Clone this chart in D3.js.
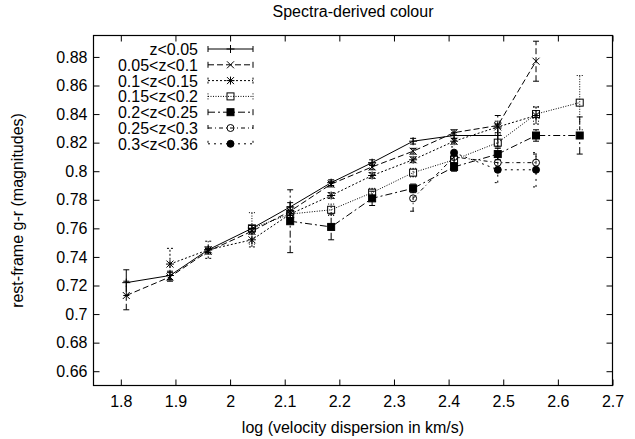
<!DOCTYPE html>
<html><head><meta charset="utf-8">
<script src="https://cdn.jsdelivr.net/npm/d3@7"></script>
<style>
body{margin:0;background:#fff;}
text{font-family:"Liberation Sans",Arial,sans-serif;font-size:16px;fill:#000;}
</style></head><body>
<svg id="c" width="635" height="439"></svg>
<script>
// ---- data ----
const seriesNames = ["z<0.05","0.05<z<0.1","0.1<z<0.15","0.15<z<0.2","0.2<z<0.25","0.25<z<0.3","0.3<z<0.36"];
const x1 = [1.81,1.89,1.96,2.04,2.11,2.185,2.26,2.335,2.41,2.49];
const y1 = [0.722,0.727,0.745,0.760,0.775,0.792,0.806,0.821,0.825,0.825];
const e1 = [0.009,0.003,0.002,0.002,0.003,0.002,0.002,0.002,0.002,0.008];
const x2 = [1.81,1.89,1.96,2.04,2.11,2.185,2.26,2.335,2.41,2.49,2.56];
const y2 = [0.713,0.726,0.744,0.758,0.772,0.791,0.803,0.814,0.827,0.832,0.877];
const e2 = [0.010,0.003,0.002,0.002,0.003,0.002,0.002,0.002,0.002,0.007,0.014];
const x3 = [1.89,1.96,2.04,2.11,2.185,2.26,2.335,2.41,2.49,2.56];
const y3 = [0.735,0.745,0.752,0.770,0.783,0.797,0.808,0.821,0.831,0.839];
const e3 = [0.011,0.006,0.005,0.003,0.002,0.002,0.002,0.002,0.004,0.006];
const x4 = [2.04,2.11,2.185,2.26,2.335,2.41,2.49,2.56,2.64];
const y4 = [0.760,0.770,0.773,0.785,0.799,0.808,0.820,0.840,0.848];
const e4 = [0.011,0.005,0.004,0.003,0.003,0.003,0.006,0.005,0.019];
const x5 = [2.11,2.185,2.26,2.335,2.41,2.49,2.56,2.64];
const y5 = [0.765,0.761,0.781,0.788,0.803,0.812,0.825,0.825];
const e5 = [0.022,0.009,0.005,0.003,0.003,0.004,0.004,0.013];
const x6 = [2.335,2.41,2.49,2.56];
const y6 = [0.781,0.810,0.806,0.806];
const e6 = [0.009,0.004,0.005,0.006];
const x7 = [2.41,2.49,2.56];
const y7 = [0.813,0.801,0.801];
const e7 = [0.004,0.009,0.012];
const xTicks = [1.8,1.9,2.0,2.1,2.2,2.3,2.4,2.5,2.6,2.7];
const yTicks = [0.66,0.68,0.70,0.72,0.74,0.76,0.78,0.80,0.82,0.84,0.86,0.88];
const titleText = "Spectra-derived colour";
const xLabel = "log (velocity dispersion in km/s)";
const yLabel = "rest-frame g-r (magnitudes)";

const allX = [x1,x2,x3,x4,x5,x6,x7], allY=[y1,y2,y3,y4,y5,y6,y7], allE=[e1,e2,e3,e4,e5,e6,e7];
const dashes = [null,"6,3","2,2","1,1.5","7,3,2,3","4,3,1,3","2,4"];
const markers = ["plus","cross","star","sq","fsq","circ","fcirc"];

// ---- layout ----
const L=93.5,R=612.5,T=35.5,B=385.5;
const svg=d3.select("#c");
const x=d3.scaleLinear().domain([1.75,2.7]).range([L,R]);
const y=d3.scaleLinear().domain([0.65,0.895]).range([B,T]);

// axes
const fmt=d=>String(+d.toFixed(2));
svg.append("g").attr("transform",`translate(${L},0)`)
  .call(d3.axisLeft(y).tickValues(yTicks).tickSize(-6).tickPadding(6).tickFormat(fmt))
  .call(g=>{g.select(".domain").remove();g.selectAll("text").style("font-size","16px").style("font-family","Liberation Sans, Arial");});
svg.append("g").attr("transform",`translate(${R},0)`)
  .call(d3.axisRight(y).tickValues(yTicks).tickSize(-6).tickFormat(""))
  .call(g=>g.select(".domain").remove());
svg.append("g").attr("transform",`translate(0,${B})`)
  .call(d3.axisBottom(x).tickValues(xTicks).tickSize(-6).tickPadding(10).tickFormat(fmt))
  .call(g=>{g.select(".domain").remove();g.selectAll("text").style("font-size","16px").style("font-family","Liberation Sans, Arial");});
svg.append("g").attr("transform",`translate(0,${T})`)
  .call(d3.axisTop(x).tickValues(xTicks).tickSize(-6).tickFormat(""))
  .call(g=>g.select(".domain").remove());
svg.selectAll(".tick line").attr("stroke","#000");
svg.append("rect").attr("x",L).attr("y",T).attr("width",R-L).attr("height",B-T)
  .attr("fill","none").attr("stroke","#000").attr("stroke-width",1.2);

// labels
svg.append("text").attr("x",(L+R)/2).attr("y",17).attr("text-anchor","middle").text(titleText);
svg.append("text").attr("x",(L+R)/2).attr("y",433).attr("text-anchor","middle").text(xLabel);
svg.append("text").attr("transform",`translate(23,${(T+B)/2}) rotate(-90)`).attr("text-anchor","middle").text(yLabel);

function drawMarker(g,type,cx,cy){
  const s=4;
  if(type==="plus"||type==="star"){
    g.append("path").attr("d",`M${cx-s},${cy}H${cx+s}M${cx},${cy-s}V${cy+s}`).attr("stroke","#000").attr("fill","none");
  }
  if(type==="cross"||type==="star"){
    const t=3.5;
    g.append("path").attr("d",`M${cx-t},${cy-t}L${cx+t},${cy+t}M${cx-t},${cy+t}L${cx+t},${cy-t}`).attr("stroke","#000").attr("fill","none");
  }
  if(type==="sq"||type==="fsq"){
    g.append("rect").attr("x",cx-3.5).attr("y",cy-3.5).attr("width",7).attr("height",7)
      .attr("fill",type==="fsq"?"#000":"none").attr("stroke","#000");
  }
  if(type==="circ"||type==="fcirc"){
    g.append("circle").attr("cx",cx).attr("cy",cy).attr("r",3.5)
      .attr("fill",type==="fcirc"?"#000":"none").attr("stroke","#000");
  }
}

const line=d3.line().x(d=>x(d[0])).y(d=>y(d[1]));
allX.forEach((xs,i)=>{
  const g=svg.append("g");
  const pts=xs.map((v,j)=>[v,allY[i][j],allE[i][j]]);
  g.append("path").attr("d",line(pts)).attr("fill","none").attr("stroke","#000")
    .attr("stroke-width",1).attr("stroke-dasharray",dashes[i]);
  pts.forEach(p=>{
    const px=x(p[0]),y0=y(p[1]-p[2]),y1_=y(p[1]+p[2]);
    g.append("path").attr("d",`M${px},${y0}V${y1_}M${px-3},${y0}H${px+3}M${px-3},${y1_}H${px+3}`)
      .attr("stroke","#000").attr("fill","none").attr("stroke-dasharray",dashes[i]);
    drawMarker(g,markers[i],px,p[1]===undefined?0:y(p[1]));
  });
});

// legend
seriesNames.forEach((name,i)=>{
  const cy=49+i*15.8;
  const g=svg.append("g");
  g.append("text").attr("x",198).attr("y",cy+6).attr("text-anchor","end").text(name);
  g.append("path").attr("d",`M208,${cy}H253M208,${cy-3}V${cy+3}M253,${cy-3}V${cy+3}`)
    .attr("stroke","#000").attr("fill","none").attr("stroke-dasharray",dashes[i]);
  drawMarker(g,markers[i],230.5,cy);
});
</script></body></html>
